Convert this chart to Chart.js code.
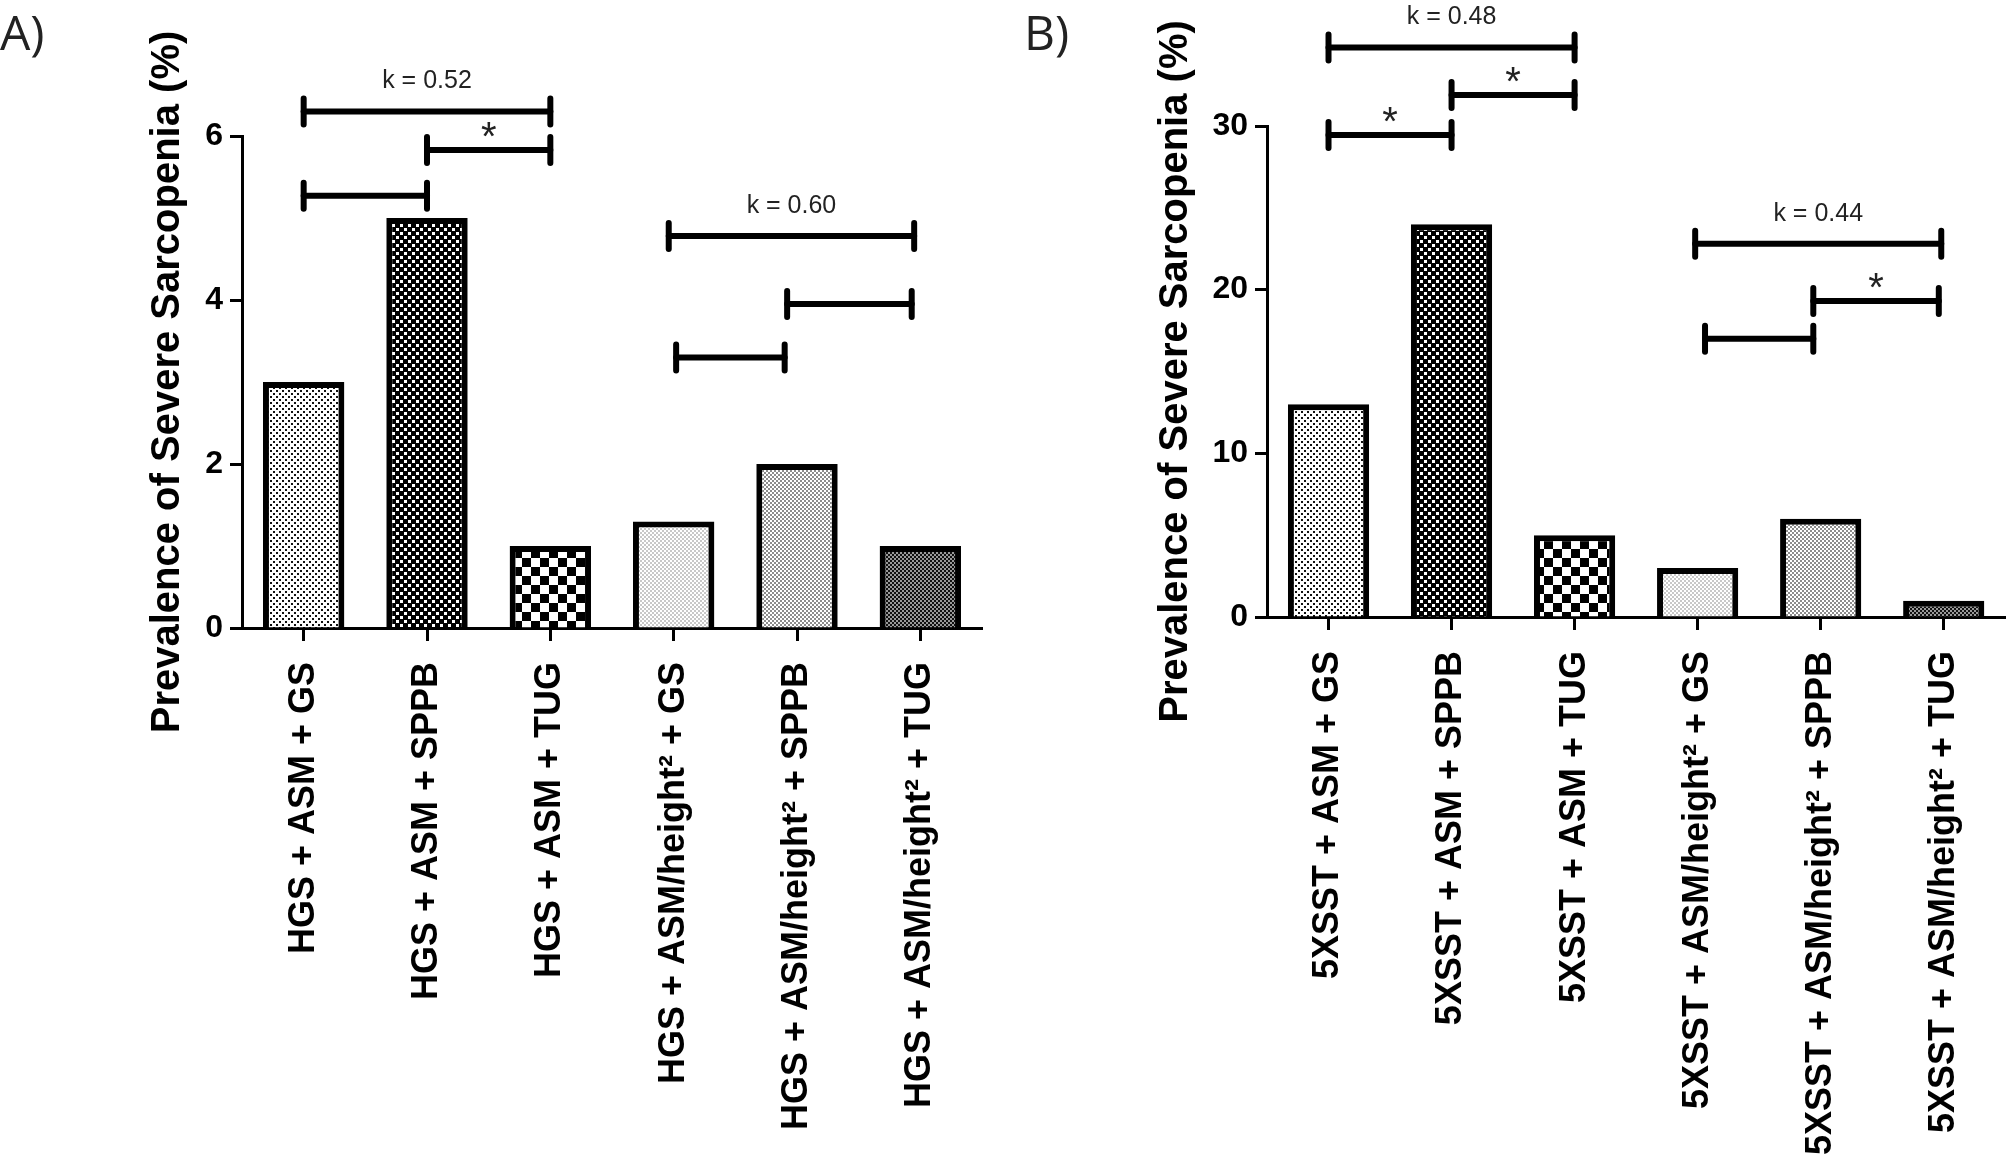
<!DOCTYPE html>
<html><head><meta charset="utf-8">
<script src="https://cdn.jsdelivr.net/npm/chart.js@4"></script>
<style>
html,body{margin:0;padding:0;background:#fff;width:2008px;height:1155px;overflow:hidden}
canvas{position:absolute;top:0}
</style></head>
<body>
<canvas id="cA" width="1004" height="1155" style="left:0px"></canvas>
<canvas id="cB" width="1004" height="1155" style="left:1004px"></canvas>
<script>
// ---- data ----
const categoriesA = ['HGS + ASM + GS', 'HGS + ASM + SPPB', 'HGS + ASM + TUG',
  'HGS + ASM/height\u00B2 + GS', 'HGS + ASM/height\u00B2 + SPPB', 'HGS + ASM/height\u00B2 + TUG'];
const valuesA = [3, 5, 1, 1.3, 2, 1];
const yTicksA = [0, 2, 4, 6];

const categoriesB = ['5XSST + ASM + GS', '5XSST + ASM + SPPB', '5XSST + ASM + TUG',
  '5XSST + ASM/height\u00B2 + GS', '5XSST + ASM/height\u00B2 + SPPB', '5XSST + ASM/height\u00B2 + TUG'];
const valuesB = [13, 24, 5, 3, 6, 1];
const yTicksB = [0, 10, 20, 30];

const yTitle = 'Prevalence of Severe Sarcopenia (%)';

// comparison brackets: category index range and height in data units
const bracketFromA = [0, 1, 0, 2.96, 3.92, 3.02];
const bracketToA   = [2, 2, 1, 4.95, 4.93, 3.9];
const bracketYA    = [6.3, 5.83, 5.27, 4.78, 3.95, 3.3];
const bracketLabelA = ['k = 0.52', '*', '', 'k = 0.60', '', ''];

const bracketFromB = [0, 1, 0, 2.98, 3.94, 3.06];
const bracketToB   = [2, 2, 1, 4.98, 4.96, 3.94];
const bracketYB    = [34.8, 31.9, 29.45, 22.8, 19.3, 17.0];
const bracketLabelB = ['k = 0.48', '*', '*', 'k = 0.44', '*', ''];

// ---- fill patterns ----
function makePattern(size, draw) {
  const c = document.createElement('canvas');
  c.width = c.height = size;
  const g = c.getContext('2d');
  draw(g, size);
  return g.createPattern(c, 'repeat');
}
const patterns = [
  makePattern(6, (g) => { g.fillStyle = '#fff'; g.fillRect(0,0,6,6); g.fillStyle = '#111'; g.fillRect(0,0,2,2); g.fillRect(3,3,2,2); }),
  makePattern(8, (g) => { g.fillStyle = '#000'; g.fillRect(0,0,8,8); g.fillStyle = '#fff'; g.fillRect(0,0,3,3); g.fillRect(4,4,3,3); }),
  makePattern(18, (g) => { g.fillStyle = '#fff'; g.fillRect(0,0,18,18); g.fillStyle = '#000'; g.fillRect(0,0,9,9); g.fillRect(9,9,9,9); }),
  makePattern(4, (g) => { g.fillStyle = '#fff'; g.fillRect(0,0,4,4); g.fillStyle = '#c8c8c8'; g.fillRect(0,0,2,2); g.fillRect(2,2,2,2); }),
  makePattern(4, (g) => { g.fillStyle = '#fff'; g.fillRect(0,0,4,4); g.fillStyle = '#8c8c8c'; g.fillRect(0,0,2,2); g.fillRect(2,2,2,2); }),
  makePattern(4, (g) => { g.fillStyle = '#111'; g.fillRect(0,0,4,4); g.fillStyle = '#999'; g.fillRect(0,0,2,2); g.fillRect(2,2,2,2); })
];

function annotPlugin(letter, letterX, titleX, from, to, ys, labels) {
  return {
    id: 'annot',
    afterDraw(chart) {
      const ctx = chart.ctx, x = chart.scales.x, y = chart.scales.y, ca = chart.chartArea;
      ctx.save();
      // panel letter
      ctx.fillStyle = '#222';
      ctx.font = '48px "Open Sans", "Liberation Sans", sans-serif';
      ctx.textAlign = 'left'; ctx.textBaseline = 'alphabetic';
      ctx.fillText(letter, letterX, 50);
      // y title
      ctx.save();
      ctx.translate(titleX, (ca.top + ca.bottom) / 2);
      ctx.rotate(-Math.PI / 2);
      ctx.fillStyle = '#000';
      ctx.font = 'bold 40px "Liberation Sans", Arial, sans-serif';
      ctx.textAlign = 'center'; ctx.textBaseline = 'middle';
      ctx.fillText(yTitle, 0, 0);
      ctx.restore();
      // brackets
      for (let i = 0; i < from.length; i++) {
        const x1 = x.getPixelForValue(from[i]);
        const x2 = x.getPixelForValue(to[i]);
        const py = y.getPixelForValue(ys[i]);
        ctx.strokeStyle = '#000';
        ctx.lineWidth = 6;
        ctx.lineCap = 'round';
        ctx.beginPath(); ctx.moveTo(x1, py); ctx.lineTo(x2, py); ctx.stroke();
        ctx.beginPath();
        ctx.moveTo(x1, py - 13); ctx.lineTo(x1, py + 13);
        ctx.moveTo(x2, py - 13); ctx.lineTo(x2, py + 13);
        ctx.stroke();
        const lab = labels[i];
        const cx = (x1 + x2) / 2;
        if (lab === '*') {
          ctx.fillStyle = '#222';
          ctx.font = '40px "Liberation Sans", Arial, sans-serif';
          ctx.textAlign = 'center'; ctx.textBaseline = 'alphabetic';
          ctx.fillText(lab, cx, py - 23 + 23);
        } else if (lab) {
          ctx.fillStyle = '#222';
          ctx.font = '25px "Liberation Sans", Arial, sans-serif';
          ctx.textAlign = 'center'; ctx.textBaseline = 'middle';
          ctx.fillText(lab, cx, py - 30);
        }
      }
      ctx.restore();
    }
  };
}

function makeChart(id, cats, vals, ticks, ymax, padTop, padRight, yW, xH, plugin) {
  return new Chart(document.getElementById(id), {
    type: 'bar',
    data: {
      labels: cats,
      datasets: [{
        data: vals,
        backgroundColor: patterns,
        borderColor: '#000',
        borderWidth: 6,
        borderSkipped: 'start',
        barPercentage: 0.66,
        categoryPercentage: 1
      }]
    },
    options: {
      responsive: false,
      animation: false,
      layout: { padding: { left: 0, right: padRight, top: padTop, bottom: 0 } },
      plugins: { legend: { display: false }, tooltip: { enabled: false }, title: { display: false } },
      scales: {
        x: {
          type: 'category',
          offset: true,
          grid: { display: true, drawOnChartArea: false, drawTicks: true, tickLength: 13, tickWidth: 3, tickColor: '#000', offset: false },
          border: { display: true, color: '#000', width: 3 },
          ticks: {
            autoSkip: false, minRotation: 90, maxRotation: 90, padding: 21,
            color: '#000', font: { family: '"Liberation Sans", Arial, sans-serif', size: 36, weight: 'bold' }
          },
          afterFit: (s) => { s.height = xH; }
        },
        y: {
          min: 0, max: ymax,
          grid: { display: true, drawOnChartArea: false, drawTicks: true, tickLength: 12, tickWidth: 3, tickColor: '#000' },
          border: { display: true, color: '#000', width: 3 },
          ticks: {
            padding: 7, color: '#000',
            font: { family: '"Liberation Sans", Arial, sans-serif', size: 32, weight: 'bold' }
          },
          afterBuildTicks: (s) => { s.ticks = ticks.map(v => ({ value: v })); },
          afterFit: (s) => { s.width = yW; }
        }
      }
    },
    plugins: [plugin]
  });
}

makeChart('cA', categoriesA, valuesA, yTicksA, 6, 136, 22, 242, 527,
  annotPlugin('A)', 0, 168, bracketFromA, bracketToA, bracketYA, bracketLabelA));
makeChart('cB', categoriesB, valuesB, yTicksB, 30, 126, 1, 263, 538,
  annotPlugin('B)', 20, 172, bracketFromB, bracketToB, bracketYB, bracketLabelB));
</script>
</body></html>
